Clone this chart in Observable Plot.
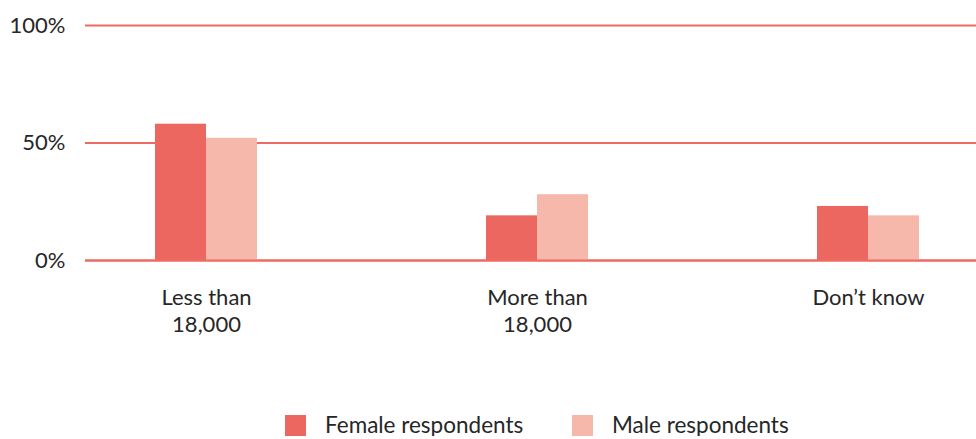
<!DOCTYPE html>
<html>
<head>
<meta charset="utf-8">
<script src="https://cdn.jsdelivr.net/npm/d3@7"></script>
<script src="https://cdn.jsdelivr.net/npm/@observablehq/plot@0.6"></script>
<style>
  html, body { margin: 0; padding: 0; background: #fff; }
  body { width: 976px; font-family: Lato, "Open Sans", sans-serif; }
  #legend { display: flex; align-items: center; padding-left: 285px; padding-top: 14px; font-size: 22.5px; line-height: 22px; color: #262626; }
  #legend .item { display: flex; align-items: center; width: 287px; }
  #legend .swatch { width: 21px; height: 21px; margin-right: 19px; flex: none; }
</style>
</head>
<body>
<div id="chart"></div>
<div id="legend"></div>
<script>
// Income bands asked about
const categories = ["Less than\n18,000", "More than\n18,000", "Don’t know"];
// Respondent groups
const seriesNames = ["Female respondents", "Male respondents"];
// Share of respondents (%)
const femaleValues = [58, 19, 23];
const maleValues = [52, 28, 19];
// Y axis ticks (%)
const yTicks = [0, 50, 100];
const seriesColors = ["#ec675f", "#f6b8ab"];

const female = categories.map((c, i) => ({category: c, series: seriesNames[0], value: femaleValues[i]}));
const male = categories.map((c, i) => ({category: c, series: seriesNames[1], value: maleValues[i]}));

const lineColor = "#ee6a62";

const chart = Plot.plot({
  width: 976,
  height: 400,
  marginLeft: 85,
  marginRight: 0,
  marginTop: 25,
  marginBottom: 140,
  style: {fontFamily: "Lato, 'Open Sans', sans-serif", fontSize: "22px", color: "#262626", background: "#fff"},
  x: {domain: categories, paddingInner: 0.6923, paddingOuter: 0.19, align: 0.548, label: null},
  y: {domain: [0, 100], label: null},
  color: {domain: seriesNames, range: seriesColors},
  marks: [
    Plot.ruleY(yTicks, {stroke: lineColor, strokeWidth: 2}),
    // each group's band holds two adjacent bars: female on the left half, male on the right
    Plot.barY(female, {x: "category", y: "value", fill: "series", insetRight: 51, insetLeft: 0}),
    Plot.barY(male, {x: "category", y: "value", fill: "series", insetLeft: 51, insetRight: 0}),
    Plot.ruleY([0], {stroke: lineColor, strokeWidth: 2}),
    Plot.axisY({ticks: yTicks, tickFormat: d => d + "%", tickSize: 0, tickPadding: 20, fontSize: 22, label: null}),
    Plot.axisX({tickSize: 0, tickPadding: 26, fontSize: 22, lineHeight: 1.2, label: null})
  ]
});
document.getElementById("chart").appendChild(chart);

const legend = document.getElementById("legend");
seriesNames.forEach((name, i) => {
  const item = document.createElement("div");
  item.className = "item";
  const sw = document.createElement("span");
  sw.className = "swatch";
  sw.style.background = seriesColors[i];
  const label = document.createElement("span");
  label.textContent = name;
  item.appendChild(sw);
  item.appendChild(label);
  legend.appendChild(item);
});
</script>
</body>
</html>
